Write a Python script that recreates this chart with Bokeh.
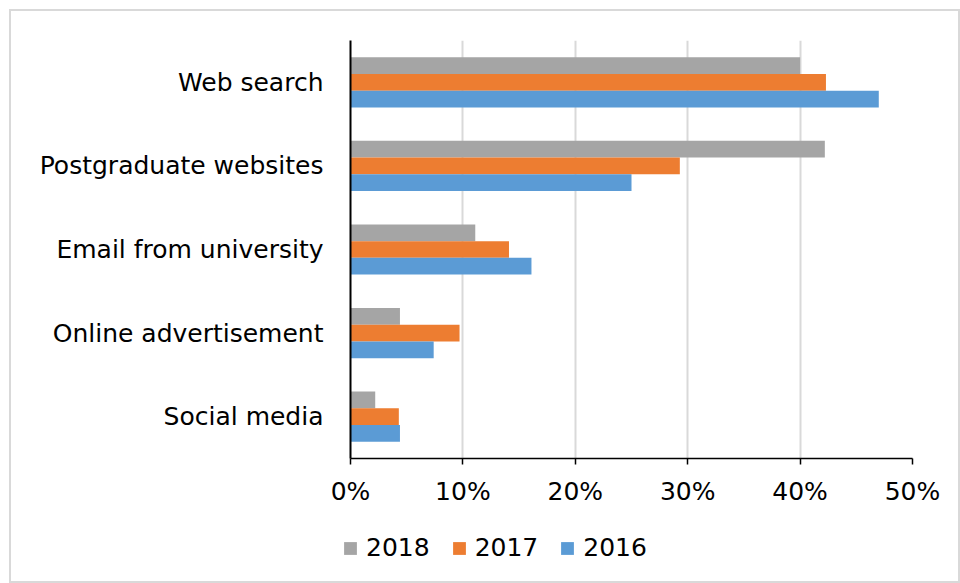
from bokeh.plotting import figure
from bokeh.layouts import column
from bokeh.models import ColumnDataSource, FactorRange, Range1d, NumeralTickFormatter, FixedTicker, Legend, LegendItem
from bokeh.transform import dodge
from bokeh.embed import file_html
from bokeh.resources import INLINE

categories = ["Web search", "Postgraduate websites", "Email from university",
              "Online advertisement", "Social media"]
years = ["2018", "2017", "2016"]
values_2018 = [0.400, 0.422, 0.111, 0.044, 0.022]
values_2017 = [0.423, 0.293, 0.141, 0.097, 0.043]
values_2016 = [0.470, 0.250, 0.161, 0.074, 0.044]
x_ticks = [0, 0.1, 0.2, 0.3, 0.4, 0.5]

colors = {"2018": "#A5A5A5", "2017": "#ED7D31", "2016": "#5B9BD5"}
offsets = {"2018": 0.2, "2017": 0.0, "2016": -0.2}

source = ColumnDataSource(data=dict(cat=categories, y2018=values_2018,
                                    y2017=values_2017, y2016=values_2016))

FONT = "DejaVu Sans"
FS = "25px"
W = 947
H1 = 504
H2 = 66

p = figure(width=W, height=H1, output_backend="svg", toolbar_location=None,
           y_range=FactorRange(factors=list(reversed(categories))),
           x_range=Range1d(0, 0.5))
p.frame_align = False
p.min_border_left = 339
p.min_border_right = 46
p.min_border_top = 29
p.min_border_bottom = H1 - 447
p.outline_line_color = None
p.background_fill_color = "white"
p.border_fill_color = "white"

for yr in years:
    p.hbar(y=dodge("cat", offsets[yr], range=p.y_range), right="y" + yr,
           left=0, height=0.2, source=source,
           fill_color=colors[yr], line_color=None)

# x axis
p.xaxis.ticker = FixedTicker(ticks=x_ticks)
p.xaxis.formatter = NumeralTickFormatter(format="0%")
p.xaxis.axis_line_color = "black"
p.xaxis.axis_line_width = 1.5
p.xaxis.major_tick_line_color = "black"
p.xaxis.major_tick_line_width = 1.5
p.xaxis.major_tick_out = 6
p.xaxis.major_tick_in = 0
p.xaxis.minor_tick_line_color = None
p.xaxis.major_label_standoff = 12
p.xaxis.major_label_text_font = FONT
p.xaxis.major_label_text_font_size = FS
p.xaxis.major_label_text_color = "black"

# y axis
p.yaxis.axis_line_color = "black"
p.yaxis.axis_line_width = 2
p.yaxis.major_tick_line_color = None
p.yaxis.major_tick_out = 0
p.yaxis.major_tick_in = 0
p.yaxis.minor_tick_line_color = None
p.yaxis.major_label_standoff = 27
p.yaxis.major_label_text_font = FONT
p.yaxis.major_label_text_font_size = FS
p.yaxis.major_label_text_color = "black"

p.xgrid.grid_line_color = "#d9d9d9"
p.xgrid.grid_line_width = 2
p.ygrid.grid_line_color = None

# legend strip below the chart (its zero-height bars draw nothing)
p2 = figure(width=W, height=H2, output_backend="svg", toolbar_location=None,
            x_range=Range1d(0, 1), y_range=Range1d(0, 1),
            x_axis_location=None, y_axis_location=None)
p2.frame_align = False
p2.min_border = 0
p2.outline_line_color = None
p2.grid.visible = False
p2.border_fill_color = "white"
p2.background_fill_color = "white"

legend_renderers = {}
for yr in years:
    legend_renderers[yr] = p2.hbar(y=0.5, right="y" + yr, left=0, height=0,
                                   source=source, fill_color=colors[yr], line_color=None)

legend = Legend(items=[LegendItem(label=yr, renderers=[legend_renderers[yr]]) for yr in years],
                orientation="horizontal", location=(331, 19),
                padding=0, margin=0, spacing=21, label_standoff=8,
                glyph_width=16, glyph_height=16,
                label_text_font=FONT, label_text_font_size=FS,
                label_text_color="black", border_line_color=None,
                background_fill_alpha=0)
p2.add_layout(legend, "center")

layout = column(p, p2, spacing=0, margin=(9, 0, 0, 9))
layout.styles = {"border": "2px solid #d9d9d9"}

open("out.html", "w").write(file_html(layout, INLINE))
